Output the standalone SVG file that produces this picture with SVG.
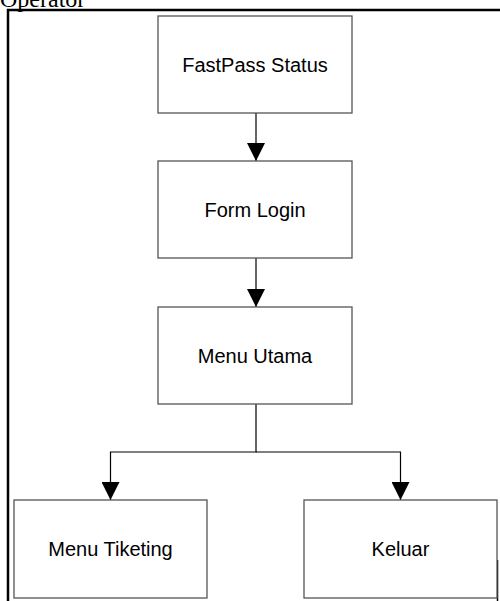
<svg xmlns="http://www.w3.org/2000/svg" width="500" height="601" viewBox="0 0 500 601">
<style>
.box{fill:#fff;stroke:#555;stroke-width:1.3}
.lbl{font-family:"Liberation Sans",Arial,sans-serif;font-size:20px;fill:#000;text-anchor:middle}
.con{fill:none;stroke:#000;stroke-width:1.2}
</style>
<defs>
<marker id="arr" markerWidth="18" markerHeight="18" refX="18" refY="9" orient="auto" markerUnits="userSpaceOnUse">
<path d="M0,0 L18,9 L0,18 Z" fill="#000"/>
</marker>
</defs>
<rect width="500" height="601" fill="#fff"/>
<text x="0" y="7" font-family="Liberation Serif,'Times New Roman',serif" font-size="24" fill="#000">Operator</text>
<path d="M8,601 V10 H500" fill="none" stroke="#000" stroke-width="2.5"/>
<line x1="497.5" y1="560" x2="497.5" y2="601" stroke="#000" stroke-width="1.5"/>
<g id="connectors">
<path class="con" d="M256,113 V161" marker-end="url(#arr)"/>
<path class="con" d="M256,258 V307" marker-end="url(#arr)"/>
<path class="con" d="M256,404 V452 H110.5 V500" marker-end="url(#arr)"/>
<path class="con" d="M256,452 H400.5 V500" marker-end="url(#arr)"/>
</g>
<g id="fastpass">
<rect class="box" x="158" y="16" width="194" height="97"/>
<text class="lbl" x="255" y="72">FastPass Status</text>
</g>
<g id="formlogin">
<rect class="box" x="158" y="161" width="194" height="97"/>
<text class="lbl" x="255" y="217">Form Login</text>
</g>
<g id="menuutama">
<rect class="box" x="158" y="307" width="194" height="97"/>
<text class="lbl" x="255" y="363">Menu Utama</text>
</g>
<g id="menutiketing">
<rect class="box" x="14" y="500" width="193" height="98"/>
<text class="lbl" x="110.5" y="556">Menu Tiketing</text>
</g>
<g id="keluar">
<rect class="box" x="304" y="500" width="193" height="98"/>
<text class="lbl" x="400.5" y="556">Keluar</text>
</g>
</svg>
